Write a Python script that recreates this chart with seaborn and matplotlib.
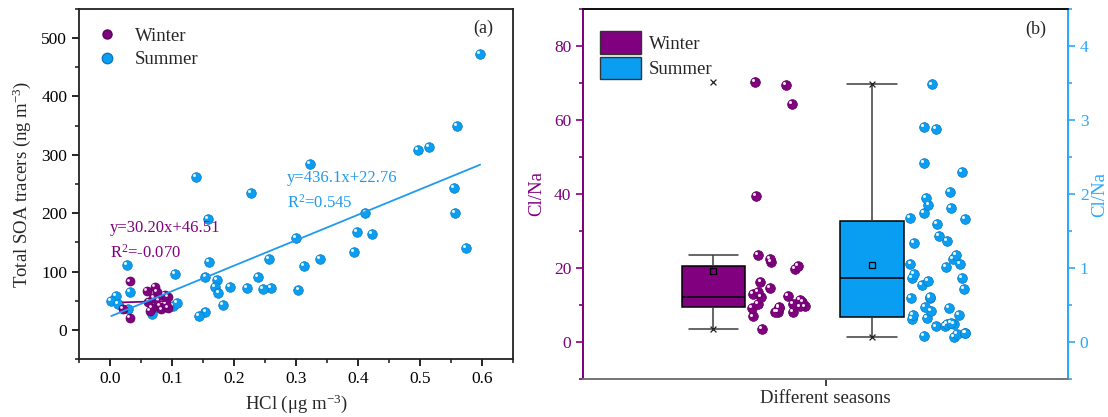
import numpy as np
import pandas as pd
import matplotlib
matplotlib.use("Agg")
import matplotlib.pyplot as plt
from matplotlib.lines import Line2D
from matplotlib.patches import Patch
from matplotlib.ticker import MultipleLocator
from matplotlib.transforms import ScaledTranslation
import seaborn as sns

# ---- (a) HCl vs total SOA tracers ----
winter_hcl = [0.032, 0.032, 0.021, 0.060, 0.072, 0.075, 0.070, 0.067, 0.083,
              0.093, 0.094, 0.085, 0.078, 0.088, 0.062, 0.080, 0.090, 0.065]
winter_soa = [83, 21, 36, 67, 74, 65, 55, 37, 35,
              37, 57, 47, 50, 60, 48, 42, 44, 33]

summer_hcl = [0.597, 0.560, 0.496, 0.514, 0.322, 0.555, 0.412, 0.557, 0.398,
              0.423, 0.574, 0.300, 0.393, 0.338, 0.313, 0.257, 0.260, 0.304,
              0.139, 0.228, 0.158, 0.028, 0.159, 0.105, 0.154, 0.239, 0.173,
              0.170, 0.193, 0.221, 0.246, 0.175, 0.182, 0.154, 0.143, 0.032,
              0.010, 0.002, 0.013, 0.029, 0.067, 0.075, 0.086, 0.102, 0.108]
summer_soa = [473, 350, 309, 313, 285, 243, 201, 200, 167,
              164, 141, 157, 134, 122, 110, 122, 72, 69,
              262, 234, 190, 111, 117, 96, 91, 91, 86,
              74, 74, 71, 70, 63, 43, 31, 24, 65,
              58, 49, 45, 35, 28, 40, 43, 41, 46]

# linear fits (slope, intercept, R^2)
winter_fit = (30.20, 46.51, -0.070)
summer_fit = (436.1, 22.76, 0.545)

# ---- (b) Cl/Na ratio by season ----
seasons = ["Winter", "Summer"]
winter_clna = [3.4, 6.9, 8.0, 8.0, 8.2, 9.1, 9.3, 9.5, 9.6, 9.6,
               10.3, 10.4, 10.7, 11.4, 12.2, 12.4, 12.9, 13.6, 14.6, 16.1,
               19.8, 20.6, 21.6, 22.4, 23.4, 39.5, 64.4, 69.5, 70.3]
summer_clna = [0.07, 0.08, 0.11, 0.12, 0.12, 0.21, 0.22, 0.25, 0.25, 0.26,
               0.31, 0.32, 0.36, 0.36, 0.42, 0.46, 0.47, 0.60, 0.60, 0.61,
               0.72, 0.77, 0.83, 0.86, 0.86, 0.92, 1.02, 1.05, 1.05, 1.12,
               1.18, 1.34, 1.36, 1.43, 1.60, 1.66, 1.68, 1.75, 1.81, 1.85,
               1.95, 2.03, 2.30, 2.42, 2.88, 2.91, 3.48]

PURPLE = "#800080"
PURPLE_EDGE = "#5a005a"
BLUE = "#0a9ef2"
BLUE_EDGE = "#0a78c0"
BLUE_AXIS = "#2aa8ff"
LINE_BLUE = "#1e9bf0"

sns.set_style("ticks")
plt.rcParams["font.family"] = ["Liberation Serif", "DejaVu Serif"]
plt.rcParams["mathtext.fontset"] = "custom"
plt.rcParams["mathtext.rm"] = "Liberation Serif"
plt.rcParams["mathtext.it"] = "Liberation Serif:italic"
plt.rcParams["axes.linewidth"] = 1.3
for k in ("xtick", "ytick"):
    plt.rcParams[f"{k}.major.size"] = 5
    plt.rcParams[f"{k}.minor.size"] = 3
    plt.rcParams[f"{k}.major.width"] = 1.2
    plt.rcParams[f"{k}.minor.width"] = 1.2
    plt.rcParams[f"{k}.direction"] = "out"

fig = plt.figure(figsize=(11.08, 4.17), dpi=100)
ax_a = fig.add_axes([79 / 1108, 58 / 417, 434 / 1108, 350 / 417])
ax_b = fig.add_axes([583 / 1108, 38 / 417, 485 / 1108, 370 / 417])


def add_shine(ax, x, y, size, zorder):
    """Small white highlight on each marker so they read as shaded balls."""
    sns.scatterplot(x=x, y=y, ax=ax, color="white", s=size * 0.10,
                    linewidth=0, alpha=0.9, zorder=zorder + 0.01, legend=False)
    d = np.sqrt(size) * 0.2 / 72
    ax.collections[-1].set_offset_transform(
        ax.transData + ScaledTranslation(-d, d, fig.dpi_scale_trans))


def balls(ax, x, y, color, edge, size, zorder):
    sns.scatterplot(x=x, y=y, ax=ax, color=color, s=size, edgecolor=edge,
                    linewidth=0.5, zorder=zorder, legend=False)
    add_shine(ax, x, y, size, zorder)


# ---------------- panel (a) ----------------
balls(ax_a, summer_hcl, summer_soa, BLUE, BLUE_EDGE, 48, 3)
balls(ax_a, winter_hcl, winter_soa, PURPLE, PURPLE_EDGE, 42, 3.2)

for hcl, fit, col in ((winter_hcl, winter_fit, PURPLE), (summer_hcl, summer_fit, LINE_BLUE)):
    xs = np.array([min(hcl), max(hcl)])
    sns.lineplot(x=xs, y=fit[0] * xs + fit[1], ax=ax_a, color=col, lw=1.3, zorder=4)

ax_a.text(0.0, 175, f"y={winter_fit[0]:.2f}x+{winter_fit[1]:.2f}", color=PURPLE,
          fontsize=12, va="center", ha="left")
ax_a.text(0.0, 132, f"R$^{{2}}$={winter_fit[2]:.3f}", color=PURPLE,
          fontsize=12, va="center", ha="left")
ax_a.text(0.285, 261, f"y={summer_fit[0]:.1f}x+{summer_fit[1]:.2f}", color=LINE_BLUE,
          fontsize=12, va="center", ha="left")
ax_a.text(0.285, 218, f"R$^{{2}}$={summer_fit[2]:.3f}", color=LINE_BLUE,
          fontsize=12, va="center", ha="left")

ax_a.set_xlim(-0.05, 0.65)
ax_a.set_ylim(-50, 550)
ax_a.xaxis.set_major_locator(MultipleLocator(0.1))
ax_a.xaxis.set_minor_locator(MultipleLocator(0.05))
ax_a.yaxis.set_major_locator(MultipleLocator(100))
ax_a.yaxis.set_minor_locator(MultipleLocator(50))
ax_a.set_xticks(np.arange(0, 0.61, 0.1))
ax_a.xaxis.set_major_formatter(matplotlib.ticker.FormatStrFormatter("%.1f"))
ax_a.tick_params(labelsize=12.5, colors="black")
for s in ax_a.spines.values():
    s.set_visible(True)
    s.set_color("#222222")
ax_a.set_xlabel("HCl (\u03bcg m$^{-3}$)", fontsize=13.5, labelpad=4)
ax_a.set_ylabel("Total SOA tracers (ng m$^{-3}$)", fontsize=13.5, labelpad=6)
ax_a.text(0.955, 0.945, "(a)", transform=ax_a.transAxes, fontsize=13,
          ha="right", va="center")

ax_a.legend(
    handles=[Line2D([], [], ls="", marker="o", ms=6.5, color=PURPLE, mec=PURPLE_EDGE),
             Line2D([], [], ls="", marker="o", ms=7.5, color=BLUE, mec=BLUE_EDGE)],
    labels=seasons, loc="upper left", bbox_to_anchor=(0.0, 0.995), frameon=False,
    fontsize=13.5, handletextpad=0.9, labelspacing=0.35, handlelength=1.2)

# ---------------- panel (b) ----------------
ax_b2 = ax_b.twinx()
box_pos = {"Winter": 0.0, "Summer": 1.0}
strip_shift = 0.42

panels = [
    (ax_b, "Winter", winter_clna, PURPLE, PURPLE_EDGE, 11),
    (ax_b2, "Summer", summer_clna, BLUE, BLUE_EDGE, 13),
]
for ax, season, vals, col, edge, seed in panels:
    df = pd.DataFrame({"season": season, "ratio": vals})
    df["pos"] = df["season"].map(box_pos)
    sns.boxplot(data=df, x="pos", y="ratio", ax=ax, orient="x", native_scale=True,
                width=0.4, whis=1.5, color=col, saturation=1, linecolor="black",
                linewidth=1.1, showfliers=False, showmeans=True,
                meanprops=dict(marker="s", markerfacecolor=col, markeredgecolor="black",
                               markersize=4, markeredgewidth=0.9),
                whiskerprops=dict(color="#3c3c3c"), capprops=dict(color="#3c3c3c"),
                zorder=2)
    # caps span most of the box width
    for line in ax.lines[-5:]:
        xd = np.asarray(line.get_xdata(), dtype=float)
        yd = np.asarray(line.get_ydata(), dtype=float)
        if len(xd) == 2 and yd[0] == yd[1] and line.get_color() == "#3c3c3c":
            mid = xd.mean()
            line.set_xdata([mid - 0.155, mid + 0.155])
    # min / max markers
    p = box_pos[season]
    sns.scatterplot(x=[p, p], y=[min(vals), max(vals)], ax=ax, marker="x",
                    color="#222222", s=18, linewidth=0.9, zorder=3, legend=False)
    # individual samples beside the box
    np.random.seed(seed)
    sdf = pd.DataFrame({"pos": df["pos"] + strip_shift, "ratio": df["ratio"]})
    sns.stripplot(data=sdf, x="pos", y="ratio", ax=ax, orient="x", native_scale=True,
                  jitter=0.18, color=col, size=7.0, edgecolor=edge, linewidth=0.5,
                  zorder=3, legend=False)
    offs = ax.collections[-1].get_offsets()
    add_shine(ax, offs[:, 0], offs[:, 1], 7.0 ** 2, 3)

ax_b.set_ylim(-10, 90)
ax_b2.set_ylim(-0.5, 4.5)
ax_b.set_xlim(-0.823, 2.237)
ax_b.set_xticks([0.71])
ax_b.set_xticklabels([""])
ax_b.xaxis.set_minor_locator(matplotlib.ticker.NullLocator())
ax_b.yaxis.set_major_locator(MultipleLocator(20))
ax_b.yaxis.set_minor_locator(MultipleLocator(10))
ax_b2.yaxis.set_major_locator(MultipleLocator(1))
ax_b2.yaxis.set_minor_locator(MultipleLocator(0.5))

ax_b.tick_params(axis="y", which="both", colors=PURPLE, labelsize=12.5)
ax_b.tick_params(axis="x", colors="#222222", pad=1)
ax_b2.tick_params(axis="y", which="both", colors=BLUE_AXIS, labelsize=12.5)
ax_b.set_xlabel("Different seasons", fontsize=13.5, labelpad=2)
ax_b.set_ylabel("Cl/Na", fontsize=13.5, color=PURPLE, labelpad=6)
ax_b2.set_ylabel("Cl/Na", fontsize=13.5, color=BLUE_AXIS, labelpad=2)

for ax in (ax_b, ax_b2):
    ax.spines["left"].set_color(PURPLE)
    ax.spines["right"].set_color(BLUE_AXIS)
    ax.spines["top"].set_color("#111111")
    ax.spines["bottom"].set_color("#777777")
    for s in ax.spines.values():
        s.set_visible(True)

ax_b2.text(0.955, 0.945, "(b)", transform=ax_b2.transAxes, fontsize=13,
           ha="right", va="center")
ax_b2.legend(
    handles=[Patch(facecolor=PURPLE, edgecolor="#333333", lw=1.0),
             Patch(facecolor=BLUE, edgecolor="#333333", lw=1.0)],
    labels=seasons, loc="upper left", bbox_to_anchor=(0.0, 0.985), frameon=False,
    fontsize=13.5, handlelength=2.2, handleheight=1.45, handletextpad=0.4,
    labelspacing=0.15)

fig.savefig("out.png", dpi=100)
